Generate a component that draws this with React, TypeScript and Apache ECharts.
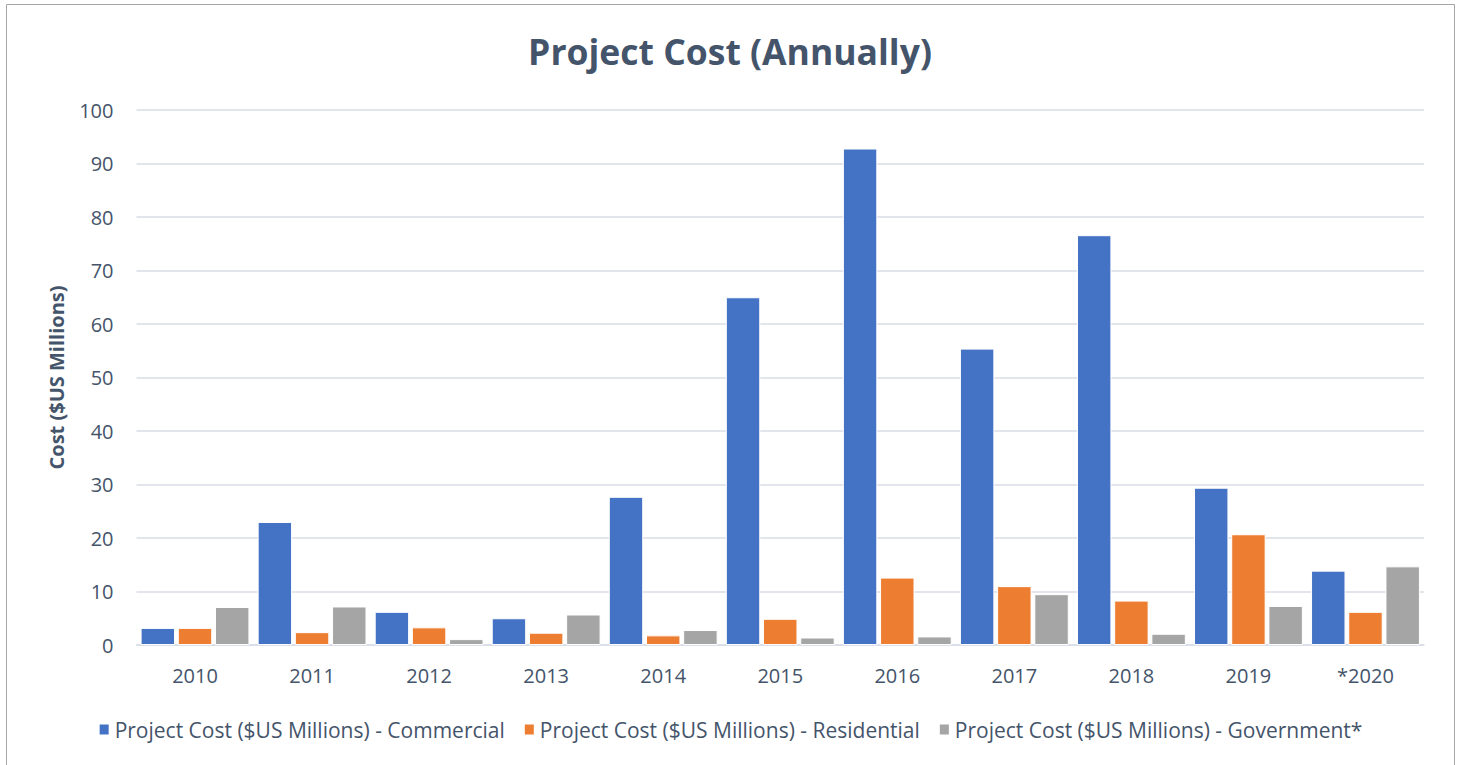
import React, { useEffect, useRef } from "react";
import * as echarts from "echarts";

const years = ["2010", "2011", "2012", "2013", "2014", "2015", "2016", "2017", "2018", "2019", "*2020"];
const commercial = [3.2, 23.0, 6.2, 5.0, 27.7, 65.0, 92.8, 55.4, 76.6, 29.4, 13.9];
const residential = [3.2, 2.4, 3.3, 2.3, 1.8, 4.9, 12.6, 11.0, 8.3, 20.7, 6.2];
const government = [7.1, 7.2, 1.1, 5.7, 2.8, 1.4, 1.6, 9.5, 2.1, 7.3, 14.7];
const seriesNames = [
  "Project Cost ($US Millions) - Commercial",
  "Project Cost ($US Millions) - Residential",
  "Project Cost ($US Millions) - Government*",
];
const colors = ["#4472C4", "#ED7D31", "#A5A5A5"];

const TEXT = "#44546A";
const FONT = "'Open Sans', 'Noto Sans', sans-serif";

export default function App() {
  const ref = useRef<HTMLDivElement>(null);
  useEffect(() => {
    if (!ref.current) return;
    const chart = echarts.init(ref.current, undefined, { renderer: "svg" });
    const values = [commercial, residential, government];
    chart.setOption({
      animation: false,
      backgroundColor: "#ffffff",
      textStyle: { fontFamily: FONT },
      color: colors,
      title: {
        text: "Project Cost (Annually)",
        left: "center",
        top: 28,
        textStyle: { fontFamily: FONT, fontSize: 35.5, fontWeight: "bold", color: TEXT },
      },
      graphic: [
        {
          type: "rect",
          shape: { x: 6.5, y: 4.5, width: 1448, height: 800 },
          style: { fill: "none", stroke: "#A6A6A6", lineWidth: 1 },
          silent: true,
        },
      ],
      legend: {
        bottom: 20,
        left: "center",
        itemWidth: 11,
        itemHeight: 12,
        itemGap: 18,
        icon: "rect",
        textStyle: { fontFamily: FONT, fontSize: 21, color: TEXT },
        data: seriesNames,
      },
      grid: { left: 136.5, right: 36, top: 110, bottom: 120, containLabel: false },
      xAxis: {
        type: "category",
        data: years,
        axisLine: { show: true, lineStyle: { color: "#D9DDE6", width: 1.5 } },
        axisTick: { show: false },
        axisLabel: { fontFamily: FONT, fontSize: 20, color: TEXT, margin: 20 },
      },
      yAxis: {
        type: "value",
        min: 0,
        max: 100,
        interval: 10,
        name: "Cost ($US Millions)",
        nameLocation: "middle",
        nameGap: 70,
        nameTextStyle: { fontFamily: FONT, fontSize: 20, fontWeight: "bold", color: TEXT },
        axisLine: { show: false },
        axisTick: { show: false },
        axisLabel: { fontFamily: FONT, fontSize: 20, color: TEXT, margin: 23 },
        splitLine: { lineStyle: { color: "#D9DDE6", width: 1.5 } },
      },
      series: seriesNames.map((name, i) => ({
        name,
        type: "bar",
        data: values[i],
        barCategoryGap: "7%",
        barGap: "8%",
        itemStyle: { color: colors[i], borderColor: "#ffffff", borderWidth: 1 },
      })),
    });
    return () => chart.dispose();
  }, []);
  return (
    <div
      ref={ref}
      style={{ position: "absolute", left: 0, top: 0, width: 1460, height: 765 }}
    />
  );
}
